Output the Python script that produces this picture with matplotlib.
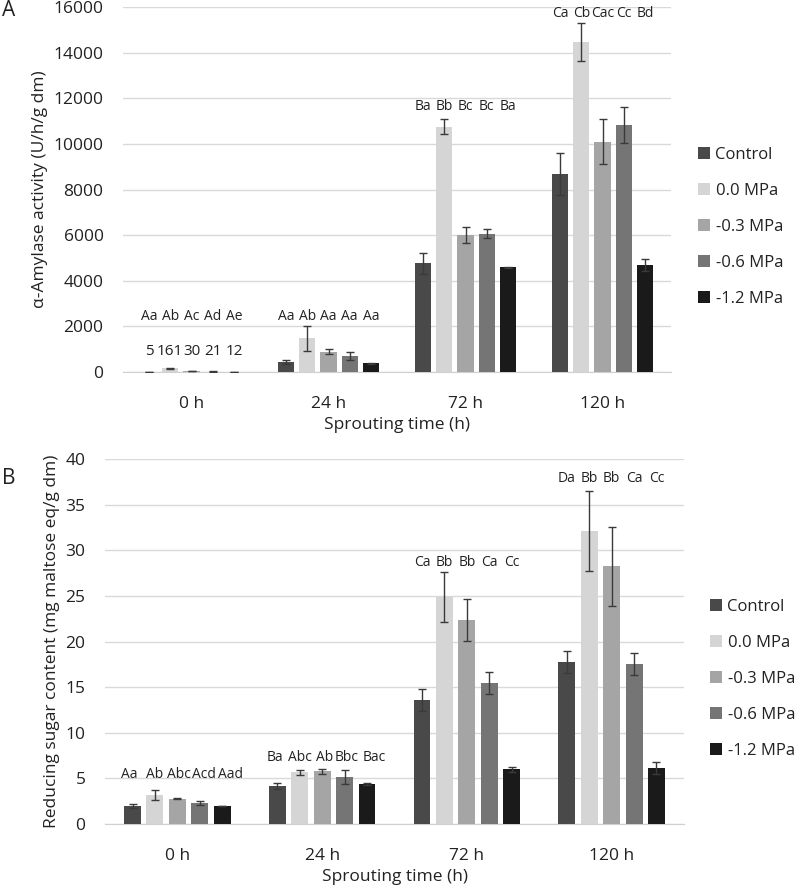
import matplotlib
matplotlib.use("Agg")
import matplotlib.pyplot as plt
import numpy as np
from matplotlib.patches import Patch

plt.rcParams['font.family'] = ['Open Sans', 'DejaVu Sans']

times = ["0 h", "24 h", "72 h", "120 h"]
treatments = ["Control", "0.0 MPa", "-0.3 MPa", "-0.6 MPa", "-1.2 MPa"]
colors = ["#494949", "#d5d5d5", "#a5a5a5", "#757575", "#1a1a1a"]

# Panel A: alpha-amylase activity (rows = treatments, cols = times)
amy_mean = [
    [5, 440, 4770, 8680],
    [161, 1475, 10760, 14470],
    [30, 890, 6010, 10100],
    [21, 700, 6070, 10820],
    [12, 380, 4590, 4690],
]
amy_err = [
    [3, 90, 460, 920],
    [20, 550, 320, 850],
    [5, 100, 360, 980],
    [4, 160, 200, 800],
    [3, 30, 20, 280],
]
amy_letters = [
    ["Aa", "Aa", "Ba", "Ca"],
    ["Ab", "Ab", "Bb", "Cb"],
    ["Ac", "Aa", "Bc", "Cac"],
    ["Ad", "Aa", "Bc", "Cc"],
    ["Ae", "Aa", "Ba", "Bd"],
]
amy_label_y = [2425, 2425, 11630, 15720]
amy_zero_labels = ["5", "161", "30", "21", "12"]
amy_zero_label_y = 880

# Panel B: reducing sugar content
sug_mean = [
    [1.97, 4.17, 13.56, 17.8],
    [3.18, 5.67, 24.93, 32.14],
    [2.78, 5.78, 22.37, 28.26],
    [2.34, 5.12, 15.43, 17.52],
    [1.97, 4.39, 6.0, 6.14],
]
sug_err = [
    [0.2, 0.35, 1.2, 1.2],
    [0.55, 0.3, 2.75, 4.4],
    [0.08, 0.3, 2.35, 4.35],
    [0.22, 0.75, 1.2, 1.2],
    [0.05, 0.08, 0.3, 0.7],
]
sug_letters = [
    ["Aa", "Ba", "Ca", "Da"],
    ["Ab", "Abc", "Bb", "Bb"],
    ["Abc", "Ab", "Bb", "Bb"],
    ["Acd", "Bbc", "Ca", "Ca"],
    ["Aad", "Bac", "Cc", "Cc"],
]
sug_label_y = [5.48, 7.32, 28.66, 37.84]

W, H = 800, 889
fig = plt.figure(figsize=(W / 100, H / 100), dpi=100)

def px_axes(l, t, r, b):
    return fig.add_axes([l / W, 1 - b / H, (r - l) / W, (b - t) / H])

axA = px_axes(123, 7, 671, 372)
axB = px_axes(105, 459.3, 684, 824)

x = np.arange(len(times))
pitch = 0.155
width = 0.117
FS = 12.5

# small horizontal nudges (points) of letter labels to avoid crowding: [treatment][time]
no_shift = [[0, 0, 0, 0] for _ in treatments]
sug_shift = [
    [-2, -1.5, 0, 0],
    [0, 0, 0, 0],
    [1.2, 1.5, 0, 0],
    [3, 1.5, 0, 0],
    [6, 5, 0, 0],
]

def draw(ax, means, errs, letters, label_y, ymax, ystep, ylabel, letter_fs, shifts):
    for i, t in enumerate(treatments):
        xs = x + (i - 2) * pitch
        ax.bar(xs, means[i], width=width, color=colors[i], zorder=3, label=t)
        ax.errorbar(xs, means[i], yerr=errs[i], fmt='none', ecolor='#3a3a3a',
                    elinewidth=1.0, capsize=2.6, capthick=1.0, zorder=4)
        for j in range(len(times)):
            ax.annotate(letters[i][j], (xs[j], label_y[j]), xytext=(shifts[i][j], 0),
                        textcoords='offset points', ha='center', va='center',
                        fontsize=letter_fs, color='#222222')
    ax.set_xlim(-0.5, len(times) - 0.5)
    ax.set_ylim(0, ymax)
    ax.set_yticks(np.arange(0, ymax + ystep / 2, ystep))
    ax.set_xticks(x)
    ax.set_xticklabels(times, fontsize=FS)
    ax.tick_params(axis='both', length=0, labelsize=FS, colors='#222222')
    ax.tick_params(axis='y', pad=14)
    ax.tick_params(axis='x', pad=17)
    ax.grid(axis='y', color='#d9d9d9', linewidth=1.0, zorder=0)
    ax.set_axisbelow(True)
    for s in ['top', 'right', 'left']:
        ax.spines[s].set_visible(False)
    ax.spines['bottom'].set_color('#d0d0d0')
    ax.set_xlabel("Sprouting time (h)", fontsize=FS, color='#222222', labelpad=4)
    ax.set_ylabel(ylabel, fontsize=FS, color='#222222')

draw(axA, amy_mean, amy_err, amy_letters, amy_label_y, 16000, 2000,
     "α-Amylase activity (U/h/g dm)", 10, no_shift)
for i, s in enumerate(amy_zero_labels):
    axA.text(x[0] + (i - 2) * pitch, amy_zero_label_y, s, ha='center', va='center',
             fontsize=11, color='#222222')
draw(axB, sug_mean, sug_err, sug_letters, sug_label_y, 40, 5,
     "Reducing sugar content (mg maltose eq/g dm)", 10, sug_shift)

axA.yaxis.set_label_coords(-0.136, 0.5)
axB.yaxis.set_label_coords(-0.077, 0.5)

LFS = 12
handles = [Patch(facecolor=c, edgecolor='none', label=t) for c, t in zip(colors, treatments)]
for ax, (lx, ly) in [(axA, (698, 147)), (axB, (710, 599))]:
    ax.legend(handles=handles, loc='upper left', bbox_to_anchor=(lx / W, 1 - ly / H),
              bbox_transform=fig.transFigure, frameon=False, fontsize=LFS,
              handlelength=0.7, handleheight=0.7, handletextpad=0.35,
              labelspacing=1.2, borderpad=0, borderaxespad=0, labelcolor='#222222')

fig.text(9 / W, 1 - 10 / H, "A", fontsize=15, ha='center', va='center', color='#222222')
fig.text(9 / W, 1 - 478 / H, "B", fontsize=15, ha='center', va='center', color='#222222')

fig.savefig("out.png", dpi=100, facecolor='white')
